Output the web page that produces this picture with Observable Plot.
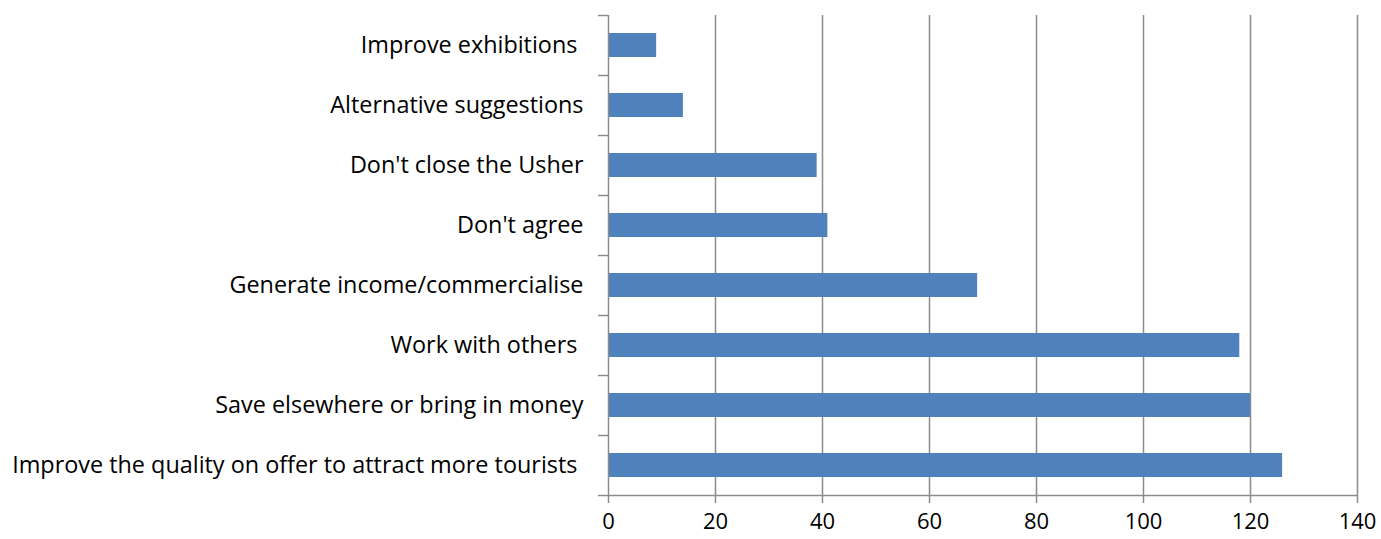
<!DOCTYPE html>
<html>
<head>
<meta charset="utf-8">
<script src="https://cdn.jsdelivr.net/npm/d3@7"></script>
<script src="https://cdn.jsdelivr.net/npm/@observablehq/plot@0.6"></script>
<style>
  body { margin: 0; background: #fff; }
</style>
</head>
<body>
<div id="chart"></div>
<script>
const categories = [
  "Improve exhibitions ",
  "Alternative suggestions",
  "Don't close the Usher",
  "Don't agree",
  "Generate income/commercialise",
  "Work with others ",
  "Save elsewhere or bring in money",
  "Improve the quality on offer to attract more tourists "
];
const values = [9, 14, 39, 41, 69, 118, 120, 126];
const xTicks = [0, 20, 40, 60, 80, 100, 120, 140];

const data = categories.map((c, i) => ({category: c, value: values[i]}));
const gridColor = "#8c8c8c";

const chart = Plot.plot({
  width: 1381,
  height: 539,
  marginLeft: 608,
  marginRight: 24,
  marginTop: 15,
  marginBottom: 44,
  style: {fontFamily: "'Open Sans', sans-serif", fontSize: "23.4px", color: "#000", background: "#fff"},
  x: {domain: [0, 140], ticks: xTicks, label: null},
  y: {domain: categories, padding: 0, label: null},
  marks: [
    Plot.ruleX(xTicks.slice(1), {stroke: gridColor, strokeWidth: 1.5}),
    Plot.barX(data, {y: "category", x: "value", fill: "#4f81bd", insetTop: 18, insetBottom: 18}),
    Plot.ruleX([0], {stroke: gridColor, strokeWidth: 1.5}),
    Plot.ruleY([categories[categories.length - 1]], {dy: 30, x1: 0, x2: 140, stroke: gridColor, strokeWidth: 1.5}),
    Plot.ruleY(categories, {dy: 30, x1: 0, x2: 0, insetLeft: -10, stroke: gridColor, strokeWidth: 1.5}),
    Plot.ruleY([categories[0]], {dy: -30, x1: 0, x2: 0, insetLeft: -10, stroke: gridColor, strokeWidth: 1.5}),
    Plot.axisX({ticks: xTicks, tickSize: 8, tickPadding: 10, fontSize: 22, stroke: gridColor, strokeWidth: 1.5, label: null}),
    Plot.axisY({tickSize: 0, tickPadding: 25, label: null,
      tickFormat: d => d.replace(/ +$/, s => "\u00a0".repeat(s.length))})
  ]
});
document.getElementById("chart").appendChild(chart);
</script>
</body>
</html>
